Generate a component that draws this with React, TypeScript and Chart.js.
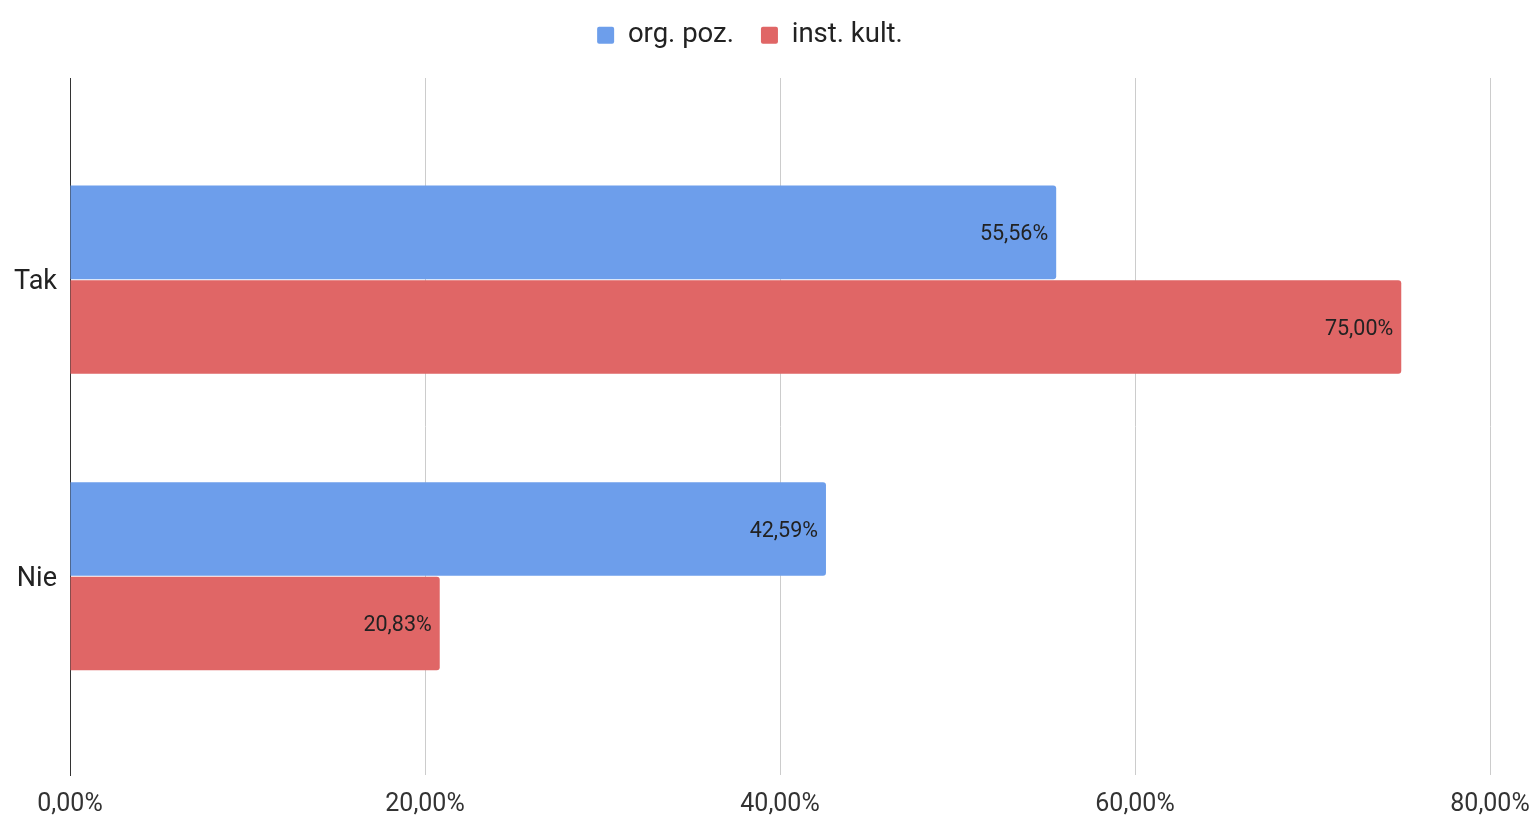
import React, { useEffect, useRef } from 'react';
import { Chart, registerables } from 'chart.js';

Chart.register(...registerables);

const categories = ['Tak', 'Nie'];
const seriesNames = ['org. poz.', 'inst. kult.'];
const orgPoz = [55.56, 42.59];
const instKult = [75.0, 20.83];
const xTickValues = [0, 20, 40, 60, 80];
const seriesColors = ['#6d9eeb', '#e06666'];

const FONT = 'Roboto, Arial, sans-serif';
const fmt = (v: number) => v.toFixed(2).replace('.', ',') + '%';

const valueLabels = {
  id: 'valueLabels',
  afterDatasetsDraw(chart: any) {
    const ctx = chart.ctx;
    ctx.save();
    ctx.font = `21.5px ${FONT}`;
    ctx.fillStyle = '#222222';
    ctx.textAlign = 'right';
    ctx.textBaseline = 'middle';
    chart.data.datasets.forEach((ds: any, di: number) => {
      const meta = chart.getDatasetMeta(di);
      meta.data.forEach((el: any, i: number) => {
        const v = ds.data[i].x;
        ctx.fillText(fmt(v), el.x - 8, el.y + 2.5);
      });
    });
    ctx.restore();
  },
};

const legendHeightFix = {
  id: 'legendHeightFix',
  beforeLayout(chart: any) {
    const lg = chart.legend;
    if (lg && !lg.__patched) {
      const orig = lg.fit;
      lg.fit = function () {
        orig.call(this);
        this.height = 83.5;
      };
      lg.__patched = true;
    }
  },
};

export default function App() {
  const ref = useRef<HTMLCanvasElement | null>(null);

  useEffect(() => {
    if (!ref.current) return;
    const datasets = [orgPoz, instKult].map((vals, si) => ({
      label: seriesNames[si],
      data: vals.map((v, i) => ({ x: v, y: i })),
      backgroundColor: seriesColors[si],
      borderRadius: 3,
      borderSkipped: 'start' as const,
      categoryPercentage: 0.6375,
      barPercentage: 0.99,
    }));
    const chart = new Chart(ref.current, {
      type: 'bar',
      data: { datasets },
      options: {
        indexAxis: 'y',
        responsive: false,
        animation: false,
        layout: { padding: { top: -5.5, left: 10, right: 47, bottom: 0 } },
        plugins: {
          legend: {
            position: 'top',
            align: 'center',
            labels: {
              boxWidth: 17,
              boxHeight: 17,
              useBorderRadius: true,
              borderRadius: 2,
              padding: 27,
              color: '#222222',
              font: { family: FONT, size: 27.5 },
            },
          },
          tooltip: { enabled: false },
        },
        scales: {
          x: {
            type: 'linear',
            position: 'bottom',
            min: 0,
            max: 80,
            afterBuildTicks: (scale: any) => {
              scale.ticks = xTickValues.map((v) => ({ value: v }));
            },
            afterFit: (scale: any) => {
              scale.height = 44;
              scale.paddingLeft = 0;
              scale.paddingRight = 0;
            },
            grid: {
              color: (c: any) => (c.tick && c.tick.value === 0 ? 'rgba(0,0,0,0)' : '#cccccc'),
              drawTicks: false,
            },
            border: { display: false },
            ticks: {
              callback: (v: any) => fmt(Number(v)),
              color: '#333333',
              font: { family: FONT, size: 25 },
              padding: 15,
              maxRotation: 0,
              autoSkip: false,
            },
          },
          y: {
            type: 'linear',
            reverse: true,
            offset: false,
            min: -0.68,
            max: 1.67,
            afterBuildTicks: (scale: any) => {
              scale.ticks = categories.map((_, i) => ({ value: i }));
            },
            afterFit: (scale: any) => {
              scale.width = 60;
            },
            grid: { display: false, drawTicks: false, offset: false },
            border: { display: true, color: '#333333', width: 1 },
            ticks: {
              callback: (v: any) => categories[Number(v)] ?? '',
              color: '#222222',
              font: { family: FONT, size: 27 },
              padding: 13,
              labelOffset: 3,
              autoSkip: false,
            },
          },
        },
      } as any,
      plugins: [valueLabels, legendHeightFix],
    });
    return () => chart.destroy();
  }, []);

  return (
    <div style={{ position: 'fixed', left: 0, top: 0, width: 1537, height: 819, background: '#ffffff' }}>
      <canvas ref={ref} width={1537} height={819} style={{ display: 'block' }} />
    </div>
  );
}
